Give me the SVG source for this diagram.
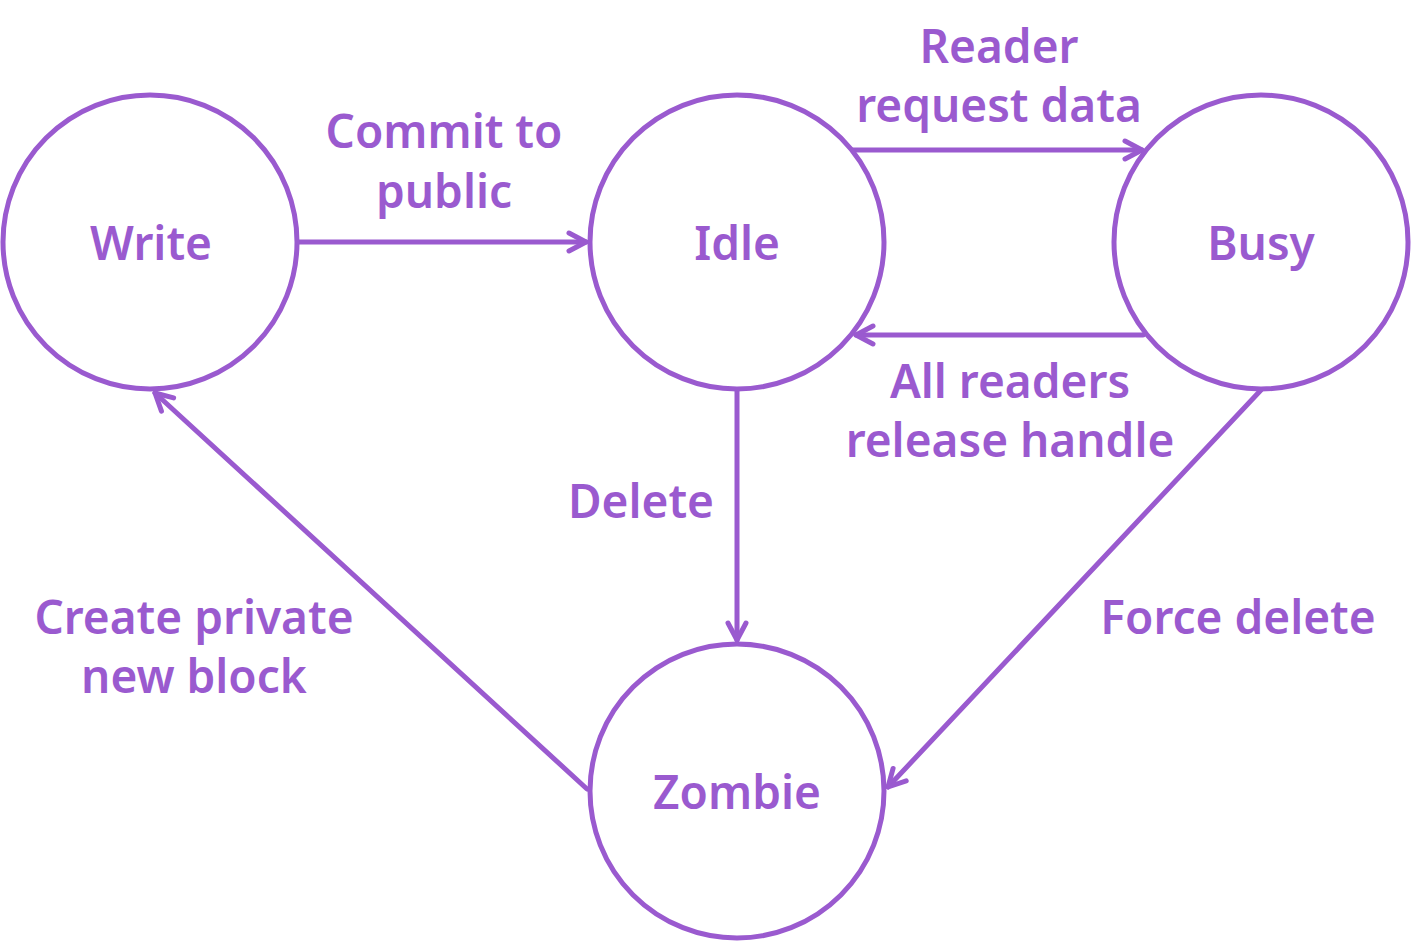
<svg xmlns="http://www.w3.org/2000/svg" width="1411" height="942" viewBox="0 0 1411 942">
<defs>
<style>
.st{fill:#fff;stroke:#9a5acf;stroke-width:5}
.ln{fill:none;stroke:#9a5acf;stroke-width:5;stroke-linecap:round}
text{font-family:"Noto Sans","Open Sans",sans-serif;font-weight:600;font-size:46px;fill:#9a5acf;text-anchor:middle}
</style>
<marker id="ah" viewBox="0 0 26 26" refX="22" refY="13" markerWidth="26" markerHeight="26" markerUnits="userSpaceOnUse" orient="auto">
<path d="M5,4 L22,13 L5,22" fill="none" stroke="#9a5acf" stroke-width="5" stroke-linecap="round" stroke-linejoin="round"/>
</marker>
</defs>
<g id="connectors">
<line class="ln" x1="298" y1="242" x2="586" y2="242" marker-end="url(#ah)"/>
<line class="ln" x1="853" y1="150" x2="1142" y2="150" marker-end="url(#ah)"/>
<line class="ln" x1="1143" y1="335" x2="856" y2="335" marker-end="url(#ah)"/>
<line class="ln" x1="737" y1="390" x2="737" y2="640" marker-end="url(#ah)"/>
<line class="ln" x1="1261" y1="390" x2="888" y2="787" marker-end="url(#ah)"/>
<line class="ln" x1="587" y1="789" x2="155" y2="393" marker-end="url(#ah)"/>
<text x="444" y="148">Commit to</text>
<text x="444" y="208">public</text>
<text x="999" y="63">Reader</text>
<text x="999" y="122">request data</text>
<text x="1010" y="398">All readers</text>
<text x="1010" y="457">release handle</text>
<text x="641" y="518">Delete</text>
<text x="194" y="634">Create private</text>
<text x="194" y="693">new block</text>
<text x="1238" y="634">Force delete</text>
</g>
<g id="write"><circle class="st" cx="150" cy="242" r="147"/><text x="151" y="260">Write</text></g>
<g id="idle"><circle class="st" cx="737" cy="242" r="147"/><text x="737" y="260">Idle</text></g>
<g id="busy"><circle class="st" cx="1261" cy="242" r="147"/><text x="1261" y="260">Busy</text></g>
<g id="zombie"><circle class="st" cx="737" cy="791" r="147"/><text x="737" y="809">Zombie</text></g>
</svg>
